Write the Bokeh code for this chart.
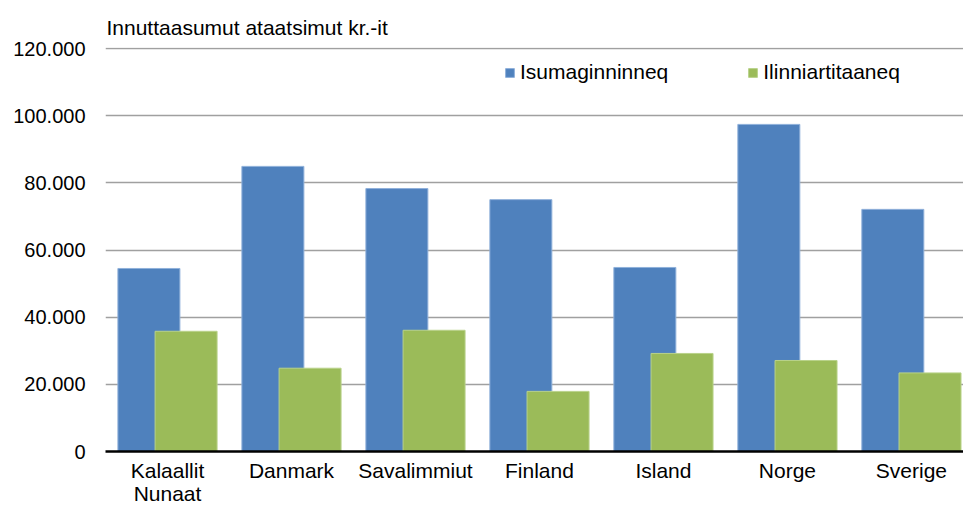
from bokeh.plotting import figure
from bokeh.models import ColumnDataSource, Range1d, FixedTicker, Legend, LegendItem
from bokeh.embed import file_html
from bokeh.resources import INLINE

categories = ["Kalaallit\nNunaat", "Danmark", "Savalimmiut", "Finland", "Island", "Norge", "Sverige"]
isumaginninneq = [54500, 84900, 78300, 75000, 54800, 97400, 72100]
ilinniartitaaneq = [35800, 24800, 36100, 17900, 29200, 27100, 23400]
y_ticks = [0, 20000, 40000, 60000, 80000, 100000, 120000]
y_tick_labels = ["0", "20.000", "40.000", "60.000", "80.000", "100.000", "120.000"]
title_text = "Innuttaasumut ataatsimut kr.-it"

FONT = "Liberation Sans"
xs = list(range(len(categories)))
src = ColumnDataSource(dict(
    x_blue=[x - 0.15 for x in xs],
    x_green=[x + 0.15 for x in xs],
    isu=isumaginninneq,
    ili=ilinniartitaaneq,
))

p = figure(width=963, height=507, output_backend="svg", toolbar_location=None,
           x_range=Range1d(-0.5, 6.42), y_range=Range1d(0, 120300),
           min_border_left=105, min_border_right=0, min_border_bottom=56, min_border_top=47,
           title=title_text)
p.title.text_font = FONT
p.title.text_font_size = "21px"
p.title.text_font_style = "normal"
p.title.text_color = "#000000"
p.title.offset = 1
p.title.standoff = 18
p.outline_line_color = None

r1 = p.vbar(x="x_blue", top="isu", width=0.5, source=src, fill_color="#4F81BD",
            line_color="#8FB0DA", line_width=1)
r2 = p.vbar(x="x_green", top="ili", width=0.5, source=src, fill_color="#9BBB59",
            line_color="#B9D28A", line_width=1)

p.xaxis.ticker = FixedTicker(ticks=xs)
p.xaxis.major_label_overrides = {i: c for i, c in enumerate(categories)}
p.xaxis.major_tick_line_color = None
p.xaxis.minor_tick_line_color = None
p.xaxis.axis_line_color = "#000000"
p.xaxis.axis_line_width = 2.5
p.xaxis.major_label_text_font = FONT
p.xaxis.major_label_text_font_size = "21px"
p.xaxis.major_label_text_color = "#000000"
p.xaxis.major_label_text_line_height = 1.0
p.xaxis.major_label_standoff = 1

p.yaxis.ticker = FixedTicker(ticks=y_ticks)
p.yaxis.major_label_overrides = {t: l for t, l in zip(y_ticks, y_tick_labels)}
p.yaxis.axis_line_color = None
p.yaxis.major_tick_line_color = None
p.yaxis.minor_tick_line_color = None
p.yaxis.major_label_text_font = FONT
p.yaxis.major_label_text_font_size = "20px"
p.yaxis.major_label_text_color = "#000000"
p.yaxis.major_label_standoff = 14

p.xgrid.grid_line_color = None
p.ygrid.ticker = FixedTicker(ticks=y_ticks)
p.ygrid.grid_line_color = "#A0A0A0"
p.ygrid.grid_line_width = 1.5

legend = Legend(items=[LegendItem(label="Isumaginninneq", renderers=[r1]),
                       LegendItem(label="Ilinniartitaaneq", renderers=[r2])],
                orientation="horizontal", location=(399, 367),
                glyph_width=11, glyph_height=11, spacing=79, label_standoff=5,
                label_text_font=FONT, label_text_font_size="21px", label_text_color="#000000",
                background_fill_alpha=0, border_line_color=None, padding=0, margin=0)
p.add_layout(legend)

open("out.html", "w").write(file_html(p, INLINE))
